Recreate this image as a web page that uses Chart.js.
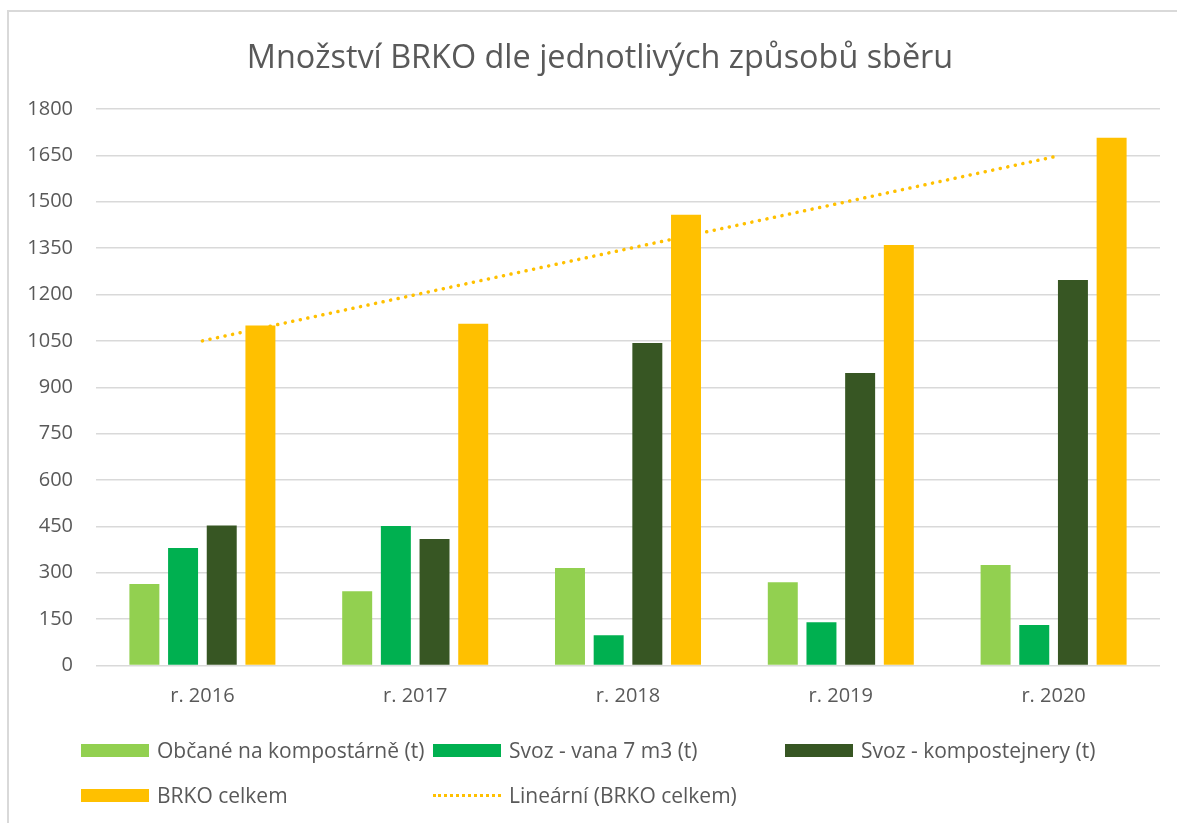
<!DOCTYPE html>
<html>
<head>
<meta charset="utf-8">
<script src="https://cdn.jsdelivr.net/npm/chart.js@4.4.1/dist/chart.umd.min.js"></script>
<style>
  body { margin: 0; background: #fff; font-family: "Open Sans", sans-serif; }
  #wrap { position: absolute; left: 0; top: 0; width: 1177px; height: 823px; }
  #frame { position: absolute; left: 7px; top: 10px; width: 1170px; height: 813px;
           border-left: 2px solid #d9d9d9; border-top: 2px solid #d9d9d9; pointer-events: none; }
  #title { position: absolute; left: 0; width: 1200px; top: 33px; text-align: center;
           font-size: 32.4px; line-height: 44px; color: #595959; white-space: nowrap; }
  #legend { position: absolute; left: 0; top: 0; width: 1177px; height: 823px; pointer-events: none; }
  .item { position: absolute; display: flex; align-items: center; height: 24px;
          font-size: 21px; color: #595959; white-space: nowrap; }
  .sw { width: 68px; height: 13px; margin-right: 8px; }
  .dot { width: 68px; height: 0; border-top: 3px dotted #FFC000; margin-right: 8px; }
</style>
</head>
<body>
<div id="wrap">
  <canvas id="chart" width="1177" height="823"></canvas>
  <div id="frame"></div>
  <div id="title"></div>
  <div id="legend"></div>
</div>
<script>
const chartTitle = "Množství BRKO dle jednotlivých způsobů sběru";
const years = ["r. 2016", "r. 2017", "r. 2018", "r. 2019", "r. 2020"];
const obcane = [264, 240, 315, 269, 325];
const svozVana = [380, 451, 98, 140, 131];
const svozKomp = [453, 409, 1043, 946, 1247];
const brkoCelkem = [1100, 1105, 1458, 1360, 1707];
// trendline as drawn in the picture
const trend = [1050, 1199, 1348, 1496, 1645];
const yTicks = [0, 150, 300, 450, 600, 750, 900, 1050, 1200, 1350, 1500, 1650, 1800];

const textColor = "#595959";

const barCommon = {
    categoryPercentage: 0.727,
    barPercentage: 0.775,
    order: 1
};

document.getElementById("title").textContent = chartTitle;

const ctx = document.getElementById("chart").getContext("2d");
const chart = new Chart(ctx, {
    type: "bar",
    data: {
        labels: years,
        datasets: [
            Object.assign({ label: "Občané na kompostárně (t)", data: obcane, backgroundColor: "#92D050" }, barCommon),
            Object.assign({ label: "Svoz - vana 7 m3 (t)", data: svozVana, backgroundColor: "#00B050" }, barCommon),
            Object.assign({ label: "Svoz - kompostejnery (t)", data: svozKomp, backgroundColor: "#375623" }, barCommon),
            Object.assign({ label: "BRKO celkem", data: brkoCelkem, backgroundColor: "#FFC000" }, barCommon),
            {
                type: "line",
                label: "Lineární (BRKO celkem)",
                data: trend,
                borderColor: "#FFC000",
                borderWidth: 3.5,
                borderDash: [0.1, 7.6],
                borderCapStyle: "round",
                pointRadius: 0,
                fill: false,
                tension: 0,
                order: 0
            }
        ]
    },
    options: {
        responsive: false,
        animation: false,
        layout: { padding: { left: 10, right: 17, top: 109, bottom: 107.5 } },
        plugins: {
            legend: { display: false },
            tooltip: { enabled: false },
            title: { display: false }
        },
        scales: {
            x: {
                grid: { display: false, drawTicks: false },
                border: { display: false },
                ticks: { color: textColor, font: { family: "Open Sans", size: 20 }, padding: 19 },
                afterFit: function(scale) { scale.height = 50; }
            },
            y: {
                min: 0,
                max: 1800,
                afterBuildTicks: function(scale) { scale.ticks = yTicks.map(v => ({ value: v })); },
                grid: { color: "#d9d9d9", lineWidth: 1.5, drawTicks: false },
                border: { display: false },
                ticks: {
                    color: textColor,
                    font: { family: "Open Sans", size: 20 },
                    padding: 23,
                    callback: function(value) { return String(value); }
                },
                afterFit: function(scale) { scale.width = 86; }
            }
        }
    }
});

// legend laid out in Excel-like columns
const legendPos = [[81, 750], [433, 750], [785, 750], [81, 795], [433, 795]];
const legendEl = document.getElementById("legend");
chart.data.datasets.forEach(function(ds, i) {
    const item = document.createElement("div");
    item.className = "item";
    item.style.left = legendPos[i][0] + "px";
    item.style.top = (legendPos[i][1] - 12) + "px";
    const sw = document.createElement("div");
    if (ds.type === "line") {
        sw.className = "dot";
    } else {
        sw.className = "sw";
        sw.style.background = ds.backgroundColor;
    }
    item.appendChild(sw);
    item.appendChild(document.createTextNode(ds.label));
    legendEl.appendChild(item);
});
</script>
</body>
</html>
